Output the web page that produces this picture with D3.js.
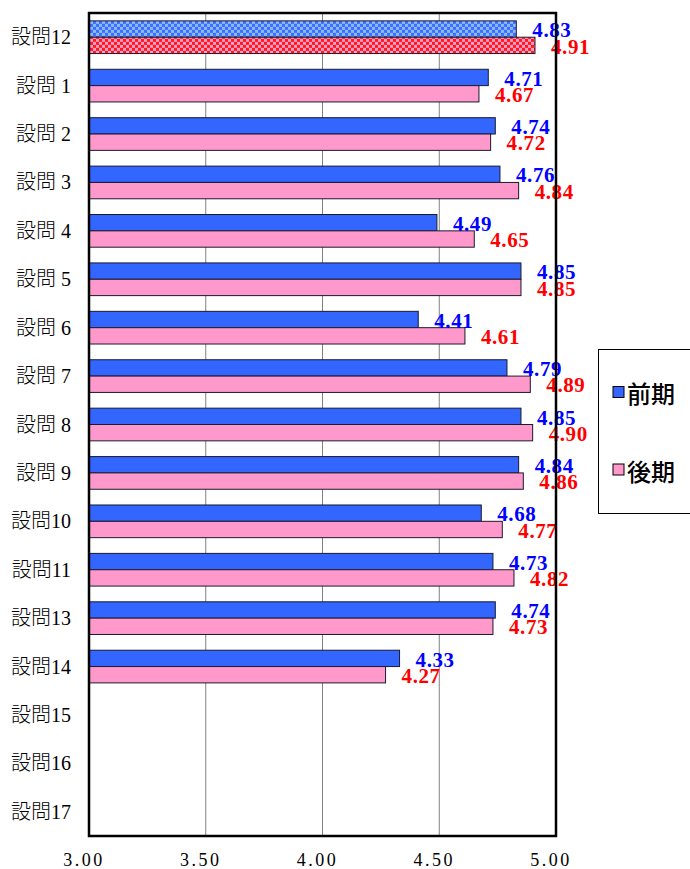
<!DOCTYPE html>
<html>
<head>
<meta charset="utf-8">
<script src="https://cdn.jsdelivr.net/npm/d3@7/dist/d3.min.js"></script>
<style>
  html, body { margin: 0; padding: 0; background: #fff; }
  svg { display: block; }
</style>
</head>
<body>
<svg id="chart" width="690" height="869"></svg>
<script>
// Survey question labels (top to bottom)
const categories = ["設問12", "設問 1", "設問 2", "設問 3", "設問 4", "設問 5", "設問 6",
  "設問 7", "設問 8", "設問 9", "設問10", "設問11", "設問13", "設問14", "設問15", "設問16", "設問17"];
// First-half term scores
const firstTerm = [4.83, 4.71, 4.74, 4.76, 4.49, 4.85, 4.41, 4.79, 4.85, 4.84, 4.68, 4.73, 4.74, 4.33, null, null, null];
// Second-half term scores
const secondTerm = [4.91, 4.67, 4.72, 4.84, 4.65, 4.85, 4.61, 4.89, 4.90, 4.86, 4.77, 4.82, 4.73, 4.27, null, null, null];
const seriesNames = ["前期", "後期"];
const tickValues = [3.0, 3.5, 4.0, 4.5, 5.0];
const highlighted = "設問12";

const svg = d3.select("#chart");
const plotLeft = 89, plotRight = 556, plotTop = 13, plotBottom = 836;

const x = d3.scaleLinear().domain([3, 5]).range([plotLeft, plotRight]);
const y = d3.scaleBand().domain(categories).range([plotTop, plotBottom])
  .paddingInner(0.325).paddingOuter(0.1625);
const ySub = d3.scaleBand().domain(seriesNames).range([0, y.bandwidth()]);

const fills = { "前期": "#3366ff", "後期": "#ff99cc" };
const labelColors = { "前期": "#0000ff", "後期": "#ff0000" };

// Checkered fills for the highlighted question
const defs = svg.append("defs");
function checker(id, base, light) {
  const p = defs.append("pattern").attr("id", id)
    .attr("patternUnits", "userSpaceOnUse").attr("width", 6).attr("height", 6);
  p.append("rect").attr("width", 6).attr("height", 6).attr("fill", base);
  p.append("rect").attr("width", 3).attr("height", 3).attr("fill", light);
  p.append("rect").attr("x", 3).attr("y", 3).attr("width", 3).attr("height", 3).attr("fill", light);
}
checker("chk-first", "#3d6dff", "#8cbaff");
checker("chk-second", "#ff1a1a", "#ff9ccc");
const patternFills = { "前期": "url(#chk-first)", "後期": "url(#chk-second)" };

// Vertical gridlines
svg.append("g").selectAll("line")
  .data(tickValues.filter(v => v > 3 && v < 5))
  .join("line")
  .attr("x1", d => x(d)).attr("x2", d => x(d))
  .attr("y1", plotTop).attr("y2", plotBottom)
  .attr("stroke", "#808080").attr("stroke-width", 1);

// Bars
const rows = categories.map((c, i) => ({ cat: c, values: [
  { name: "前期", v: firstTerm[i] }, { name: "後期", v: secondTerm[i] }] }));

const rowG = svg.append("g").selectAll("g").data(rows).join("g")
  .attr("transform", d => `translate(0,${y(d.cat)})`);

rowG.selectAll("rect")
  .data(d => d.values.filter(e => e.v != null).map(e => ({ ...e, cat: d.cat })))
  .join("rect")
  .attr("x", x(3))
  .attr("y", d => ySub(d.name))
  .attr("width", d => x(d.v) - x(3))
  .attr("height", ySub.bandwidth())
  .attr("fill", d => d.cat === highlighted ? patternFills[d.name] : fills[d.name])
  .attr("stroke", "#1a1a2e").attr("stroke-width", 1);

// Value labels
rowG.selectAll("text")
  .data(d => d.values.filter(e => e.v != null))
  .join("text")
  .attr("x", d => x(d.v) + 16)
  .attr("y", d => ySub(d.name) + ySub.bandwidth())
  .attr("fill", d => labelColors[d.name])
  .attr("font-family", "'Liberation Serif', 'DejaVu Serif', serif")
  .attr("font-weight", "bold")
  .attr("font-size", 21)
  .attr("letter-spacing", 0.6)
  .text(d => d.v.toFixed(2));

// Category axis labels
svg.append("g").selectAll("text").data(categories).join("text")
  .attr("x", 71)
  .attr("y", d => y(d) + y.bandwidth() / 2 + 7)
  .attr("text-anchor", "end")
  .attr("font-family", "'Liberation Serif', 'Noto Sans CJK JP', serif")
  .attr("font-size", 20)
  .attr("font-weight", 300)
  .attr("fill", "#000")
  .text(d => d);

// Value axis labels
svg.append("g").selectAll("text").data(tickValues).join("text")
  .attr("x", d => x(d) - 5)
  .attr("y", 866)
  .attr("text-anchor", "middle")
  .attr("font-family", "'Liberation Serif', serif")
  .attr("font-size", 18)
  .attr("letter-spacing", 2.5)
  .attr("fill", "#000")
  .text(d => d.toFixed(2));

// Plot frame
svg.append("rect")
  .attr("x", plotLeft).attr("y", plotTop)
  .attr("width", plotRight - plotLeft).attr("height", plotBottom - plotTop)
  .attr("fill", "none").attr("stroke", "#000").attr("stroke-width", 2.5);

// Legend
const legend = svg.append("g");
legend.append("rect")
  .attr("x", 598.5).attr("y", 349.5).attr("width", 110).attr("height", 164)
  .attr("fill", "#fff").attr("stroke", "#000").attr("stroke-width", 1);
const legendY = { "前期": 392.5, "後期": 470 };
seriesNames.forEach(name => {
  legend.append("rect")
    .attr("x", 613).attr("y", legendY[name] - 6)
    .attr("width", 11).attr("height", 11)
    .attr("fill", fills[name]).attr("stroke", "#000").attr("stroke-width", 1);
  legend.append("text")
    .attr("x", 627).attr("y", legendY[name])
    .attr("dominant-baseline", "central")
    .attr("font-family", "'Noto Sans CJK JP', sans-serif")
    .attr("font-weight", 500)
    .attr("font-size", 24)
    .attr("fill", "#000")
    .text(name);
});
</script>
</body>
</html>
